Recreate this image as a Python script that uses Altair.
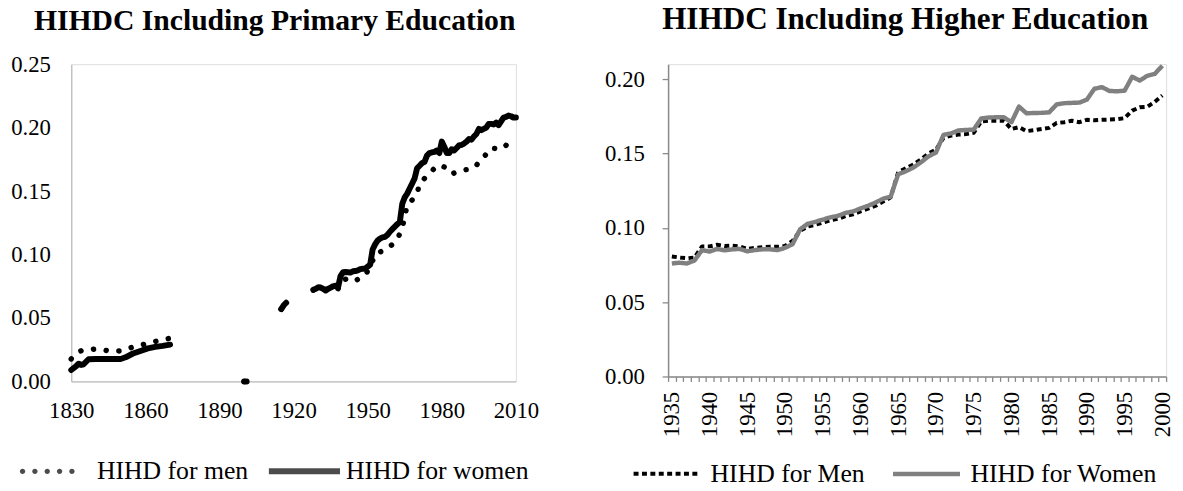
import altair as alt
import pandas as pd

# ---------------- Left panel: HIHDC Including Primary Education ----------------
p_women_years = [1830, 1832, 1833, 1834, 1835, 1837, 1840, 1845, 1850, 1852, 1855, 1858, 1861, 1864, 1867, 1870,
                 1900, 1901,
                 1915, 1916, 1917,
                 1928, 1929, 1930, 1931, 1932, 1933, 1934, 1935, 1936, 1937, 1938, 1939, 1940, 1941, 1942, 1943,
                 1944, 1945, 1946, 1947, 1948, 1949, 1950, 1951, 1952, 1953, 1954, 1955, 1956, 1957, 1958, 1959,
                 1960, 1961, 1962, 1963, 1964, 1965, 1966, 1967, 1968, 1969, 1970, 1971, 1972, 1973, 1974, 1975,
                 1976, 1977, 1978, 1979, 1980, 1981, 1982, 1983, 1984, 1985, 1986, 1987, 1988, 1989, 1990, 1991,
                 1992, 1993, 1994, 1995, 1996, 1997, 1998, 1999, 2000, 2001, 2002, 2003, 2004, 2005, 2006, 2007,
                 2008, 2009, 2010]
p_women_vals = [0.009, 0.012, 0.014, 0.013, 0.0135, 0.0175, 0.0177, 0.0177, 0.0177, 0.019, 0.022, 0.024, 0.026, 0.0272, 0.028, 0.029,
                0.0, 0.0,
                0.057, 0.060, 0.062,
                0.0722, 0.073, 0.0742, 0.074, 0.073, 0.0716, 0.073, 0.074, 0.075, 0.0755, 0.0742, 0.083, 0.086, 0.0862, 0.086, 0.0858,
                0.0868, 0.087, 0.0875, 0.0885, 0.0888, 0.089, 0.0905, 0.092, 0.104, 0.108, 0.111, 0.1125, 0.1135, 0.114, 0.1155, 0.118,
                0.120, 0.122, 0.124, 0.1255, 0.140, 0.145, 0.148, 0.152, 0.156, 0.160, 0.168, 0.170, 0.172, 0.173, 0.178, 0.180,
                0.1805, 0.181, 0.182, 0.180, 0.189, 0.185, 0.180, 0.180, 0.183, 0.182, 0.184, 0.186, 0.1865, 0.1875, 0.189, 0.191,
                0.1905, 0.193, 0.195, 0.199, 0.198, 0.199, 0.200, 0.203, 0.203, 0.2025, 0.204, 0.202, 0.205, 0.208, 0.2085, 0.2096,
                0.209, 0.208, 0.208]
p_women_seg = [1] * 16 + [2] * 2 + [3] * 3 + [4] * 83

p_men_years = [1830, 1832, 1834, 1837, 1840, 1845, 1850, 1853, 1856, 1861, 1866, 1870,
               1900, 1901,
               1915, 1916, 1917,
               1928, 1930, 1932, 1934, 1936, 1938, 1940, 1942, 1945, 1947, 1949, 1951, 1953, 1955, 1958, 1960,
               1962, 1964, 1965, 1966, 1968, 1970, 1971, 1973, 1975, 1977, 1978, 1980, 1981, 1983, 1984, 1986,
               1989, 1992, 1994, 1995, 1997, 1999, 2000, 2002, 2004, 2006, 2007, 2010]
p_men_vals = [0.0177, 0.022, 0.0242, 0.025, 0.0255, 0.0242, 0.024, 0.026, 0.0275, 0.030, 0.0325, 0.034,
              0.0, 0.0,
              0.057, 0.060, 0.062,
              0.072, 0.073, 0.073, 0.0725, 0.074, 0.073, 0.080, 0.081, 0.079, 0.082, 0.084, 0.090, 0.100, 0.102, 0.1047, 0.108,
              0.112, 0.121, 0.130, 0.139, 0.143, 0.148, 0.156, 0.160, 0.1635, 0.168, 0.170, 0.170, 0.169, 0.165, 0.1635, 0.165,
              0.1667, 0.1674, 0.170, 0.1737, 0.1766, 0.182, 0.184, 0.1835, 0.183, 0.186, 0.189, 0.189]
p_men_seg = [1] * 12 + [2] * 2 + [3] * 3 + [4] * 44

p_series = ["HIHD for men", "HIHD for women"]
p_ticks_x = [1830, 1860, 1890, 1920, 1950, 1980, 2010]
p_ticks_y = [0.0, 0.05, 0.10, 0.15, 0.20, 0.25]

# ---------------- Right panel: HIHDC Including Higher Education ----------------
h_years = list(range(1935, 2001))
h_women = [0.076, 0.0765, 0.076, 0.078, 0.085, 0.084, 0.0858, 0.0848, 0.0855, 0.0858, 0.0842, 0.085, 0.0855, 0.0855,
           0.085, 0.0865, 0.089, 0.099, 0.1027, 0.104, 0.1055, 0.107, 0.108, 0.110, 0.111, 0.113, 0.1148, 0.117,
           0.1195, 0.121, 0.136, 0.138, 0.1405, 0.144, 0.148, 0.1506, 0.1625, 0.1635, 0.1655, 0.1658, 0.166, 0.1735,
           0.1742, 0.1743, 0.1743, 0.171, 0.1815, 0.177, 0.1772, 0.1773, 0.1776, 0.183, 0.1838, 0.184, 0.1842,
           0.1862, 0.1935, 0.1946, 0.192, 0.1918, 0.1922, 0.2016, 0.199, 0.2022, 0.2035, 0.209]
h_men = [0.0807, 0.080, 0.0795, 0.080, 0.0875, 0.0875, 0.0886, 0.0878, 0.088, 0.0875, 0.0858, 0.0865, 0.087, 0.0872,
         0.0872, 0.0878, 0.0912, 0.098, 0.1008, 0.102, 0.1035, 0.105, 0.106, 0.1078, 0.109, 0.111, 0.1128, 0.1148,
         0.1176, 0.1205, 0.1375, 0.140, 0.1425, 0.146, 0.150, 0.1525, 0.1605, 0.162, 0.1627, 0.163, 0.1638, 0.1715,
         0.172, 0.172, 0.172, 0.1664, 0.1677, 0.165, 0.1656, 0.1664, 0.1672, 0.1705, 0.171, 0.172, 0.171, 0.1726,
         0.1723, 0.1726, 0.1728, 0.173, 0.1737, 0.1788, 0.181, 0.1814, 0.1847, 0.189]
h_series = ["HIHD for Men", "HIHD for Women"]
h_ticks_y = [0.0, 0.05, 0.10, 0.15, 0.20]

FONT = "Liberation Serif"

# ---------------- data frames ----------------
left_df = pd.concat([
    pd.DataFrame({"year": p_men_years, "value": p_men_vals, "seg": p_men_seg, "series": p_series[0]}),
    pd.DataFrame({"year": p_women_years, "value": p_women_vals, "seg": p_women_seg, "series": p_series[1]}),
], ignore_index=True)

right_df = pd.concat([
    pd.DataFrame({"year": h_years, "value": h_men, "series": h_series[0]}),
    pd.DataFrame({"year": h_years, "value": h_women, "series": h_series[1]}),
], ignore_index=True)

# legend glyphs for the left panel (unit-square symbol paths): a row of round dots and a thick bar
_r = 0.076
_dots = "".join(
    "M{:.3f},0a{r},{r} 0 1,0 {d},0a{r},{r} 0 1,0 -{d},0Z".format(cx - _r, r=_r, d=2 * _r)
    for cx in (-0.924, -0.577, -0.230, 0.117, 0.464)
)
_bar = "M-1,-0.085L1,-0.085L1,0.085L-1,0.085Z"

# ---------------- left panel ----------------
left_base = alt.Chart(left_df).encode(
    x=alt.X("year:Q", scale=alt.Scale(domain=[1830, 2010], nice=False, zero=False),
            axis=alt.Axis(title=None, values=p_ticks_x, format="d", ticks=False, grid=False, labelFlush=False,
                          domainColor="#BFBFBF", domainWidth=1.3, labelFont=FONT, labelFontSize=23,
                          labelColor="black", labelPadding=19)),
    y=alt.Y("value:Q", scale=alt.Scale(domain=[0, 0.25], nice=False),
            axis=alt.Axis(title=None, values=p_ticks_y, format=".2f", ticks=False, grid=False,
                          domainColor="#BFBFBF", domainWidth=1.3, labelFont=FONT, labelFontSize=23,
                          labelColor="black", labelPadding=21)),
)
left_men = left_base.transform_filter(alt.datum.series == p_series[0]).mark_line(
    strokeCap="round", strokeJoin="round", color="black", strokeWidth=5.5, strokeDash=[0.1, 12.8]
).encode(detail="seg:N")
left_women = left_base.transform_filter(alt.datum.series == p_series[1]).mark_line(
    strokeCap="round", strokeJoin="round", color="black", strokeWidth=6
).encode(detail="seg:N")
left_keys = left_base.mark_point(filled=True, color="black", size=0, strokeWidth=0).encode(
    shape=alt.Shape("series:N", scale=alt.Scale(domain=p_series, range=[_dots, _bar]),
                    legend=alt.Legend(title=None, orient="none", legendX=-52, legendY=376,
                                      direction="horizontal", symbolSize=5184,
                                      symbolFillColor="black", symbolStrokeWidth=0,
                                      labelFont=FONT, labelFontSize=26, labelColor="black", labelLimit=400,
                                      labelOffset=6, columnPadding=20)),
)
left = alt.layer(left_men, left_women, left_keys).properties(
    width=450, height=321,
    title=alt.TitleParams("HIHDC Including Primary Education", font=FONT, fontSize=30, fontWeight="bold",
                          color="black", offset=18, frame="bounds"),
)

# ---------------- right panel ----------------
right_leg = alt.Legend(title=None, orient="none", legendX=-37, legendY=378, direction="horizontal",
                       symbolType="stroke", symbolSize=4600, labelFont=FONT, labelFontSize=26,
                       labelColor="black", labelLimit=400, labelOffset=8, columnPadding=19)
right = alt.Chart(right_df).mark_line(strokeCap="butt", strokeJoin="round").encode(
    x=alt.X("year:O", scale=alt.Scale(type="band", paddingInner=0, paddingOuter=0),
            axis=alt.Axis(title=None, labelAngle=-90, labelExpr="datum.value % 5 === 0 ? datum.label : ''",
                          labelOverlap=False, tickBand="extent", ticks=True, tickSize=5, tickColor="#898989",
                          tickWidth=1.3, domainColor="#898989", domainWidth=1.5, grid=False, labelFont=FONT,
                          labelFontSize=23, labelColor="black", labelPadding=10, labelBaseline="middle",
                          labelAlign="right")),
    y=alt.Y("value:Q", scale=alt.Scale(domain=[0, 0.21], nice=False),
            axis=alt.Axis(title=None, values=h_ticks_y, format=".2f", ticks=True, tickSize=6,
                          tickColor="#898989", tickWidth=1.3, grid=False, domainColor="#898989",
                          domainWidth=1.5, labelFont=FONT, labelFontSize=23, labelColor="black",
                          labelPadding=18)),
    color=alt.Color("series:N", scale=alt.Scale(domain=h_series, range=["black", "#808080"]), legend=right_leg),
    strokeDash=alt.StrokeDash("series:N", scale=alt.Scale(domain=h_series, range=[[5, 3.5], [1, 0]]),
                              legend=right_leg),
    strokeWidth=alt.StrokeWidth("series:N", scale=alt.Scale(domain=h_series, range=[4, 4.5]), legend=right_leg),
).properties(
    width=504, height=316,
    title=alt.TitleParams("HIHDC Including Higher Education", font=FONT, fontSize=31.5, fontWeight="bold",
                          color="black", offset=28, frame="bounds", dx=16),
)

chart = alt.hconcat(left, right, spacing=154, bounds="flush").resolve_scale(
    color="independent", strokeDash="independent", strokeWidth="independent", shape="independent",
    x="independent", y="independent"
).resolve_legend(
    color="independent", strokeDash="independent", strokeWidth="independent", shape="independent"
).properties(
    padding={"left": 2, "top": -7, "right": 0, "bottom": 0}
).configure_view(stroke=None).configure(font=FONT)

chart.save("out.html", embed_options={"renderer": "svg", "actions": False})
